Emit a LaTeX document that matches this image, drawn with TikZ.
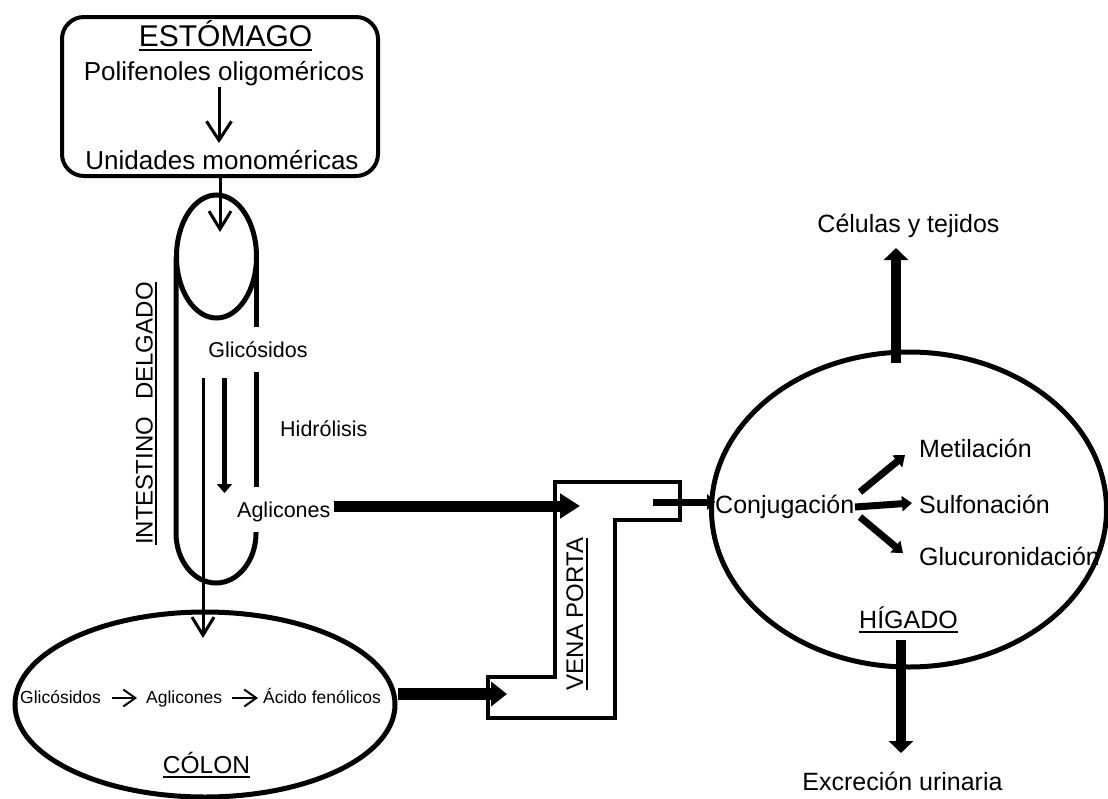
\documentclass[tikz,border=0pt]{standalone}
\usepackage{fontspec}
\setmainfont{Liberation Sans}
\usetikzlibrary{arrows.meta,shapes.geometric,calc}
\newcommand\myul[1]{\setbox0=\hbox{#1}\rlap{\rule[-4.5pt]{\wd0}{2pt}}\box0}
\newcommand\fsz[1]{\fontsize{#1}{#1}\selectfont}
\begin{document}
\begin{tikzpicture}[x=1pt,y=-1pt,
  lbl/.style={inner sep=0pt, anchor=base},
  wall/.style={line width=5pt},
  organ/.style={draw, ellipse, line width=5pt, inner sep=0pt},
  thinarrow/.style={line width=3pt, -{Straight Barb[length=18pt,width=22pt]}},
  bigarrow/.style={line width=11pt, -{Triangle[length=20pt,width=24pt]}},
  midarrow/.style={line width=7pt, -{Triangle[length=10pt,width=15pt]}}]
\useasboundingbox (0,0) rectangle (1108,798);

% ---------- Stomach ----------
\node[draw, line width=4pt, rounded corners=22pt, minimum width=316pt, minimum height=159pt, inner sep=0pt] (stomach) at (220,96.5) {};
\node[lbl, font=\fsz{30}] (est) at (225.5,46.5) {\myul{ESTÓMAGO}};
\node[lbl, font=\fsz{26}] (poli) at (224,80) {Polifenoles oligoméricos};
\node[lbl, font=\fsz{26}] (unid) at (222,169) {Unidades monoméricas};
\coordinate (s1) at (219,87);
\coordinate (s2) at (219,143);
\draw[line width=3pt, -{Straight Barb[length=19pt,width=25pt]}] (s1) -- (s2);

% ---------- Small intestine ----------
\draw[wall] (216.5,256.5) ellipse [x radius=40pt, y radius=61.5pt];
\draw[wall] (176,256.5) -- (176,533) arc[start angle=180, end angle=360, x radius=40pt, y radius=50pt] -- (256,532);
\draw[wall] (256,256.5) -- (256,327);
\draw[wall] (256,372) -- (256,487);
\coordinate (iEnd) at (220,232);
\draw[thinarrow] (stomach.south) -- (iEnd);

\node[lbl, font=\fsz{21.5}] (gli1) at (258,357) {Glicósidos};
\node[lbl, anchor=base west, font=\fsz{21.5}] (hid) at (280,436) {Hidrólisis};
\node[lbl, anchor=base west, font=\fsz{21.5}] (agl1) at (237,517) {Aglicones};
\node[lbl, rotate=90, font=\fsz{24}] (intl) at (152.5,413.5) {\myul{INTESTINO\hspace{17pt}DELGADO}};

\coordinate (t1) at (203,378);
\coordinate (t2) at (203,638);
\draw[thinarrow] (t1) -- (t2);
\coordinate (h1) at (224.5,378);
\coordinate (h2) at (224.5,493);
\draw[line width=5.5pt, -{Triangle[length=9pt,width=15pt]}] (h1) -- (h2);

% ---------- Colon ----------
\node[organ, minimum width=380pt, minimum height=185pt] (colon) at (205,704.5) {};
\node[lbl, anchor=base west, font=\fsz{17.5}] (gli2) at (20,703) {Glicósidos};
\node[lbl, anchor=base west, font=\fsz{17.5}] (agl2) at (146,703) {Aglicones};
\node[lbl, anchor=base west, font=\fsz{17.5}] (acid) at (263,703) {Ácido fenólicos};
\node[lbl, font=\fsz{24.5}] (colonlbl) at (206.5,773) {\myul{CÓLON}};
\draw[line width=2pt, -{Straight Barb[length=12pt,width=17pt]}] ($(gli2.base east)+(11,-5)$) -- ($(agl2.base west)+(-9,-5)$);
\draw[line width=2pt, -{Straight Barb[length=12pt,width=17pt]}] ($(agl2.base east)+(10,-5)$) -- ($(acid.base west)+(-5,-5)$);

% ---------- Vena porta ----------
\draw[line width=4pt] (555,482) -- (680,482) -- (680,520) -- (615,520) -- (615,718) -- (488,718) -- (488,677) -- (555,677) -- cycle;
\node[lbl, rotate=90, font=\fsz{24}] (vena) at (583,614) {\myul{VENA PORTA}};
\coordinate (vpIn) at (580,506);
\coordinate (vpB) at (507,694);
\coordinate (vpOut) at (653,502);
\draw[bigarrow] (agl1.east |- vpIn) ++(3,0) -- (vpIn);
\draw[line width=12pt, -{Triangle[length=16pt,width=24pt]}] (colon.east |- vpB) -- (vpB);

% ---------- Liver ----------
\node[organ, minimum width=395pt, minimum height=315pt] (liver) at (909,509.5) {};
\node[lbl, anchor=base west, font=\fsz{25}] (conj) at (715,513) {Conjugación};
\node[lbl, anchor=base west, font=\fsz{25}] (met) at (919,457) {Metilación};
\node[lbl, anchor=base west, font=\fsz{25}] (sul) at (919,513) {Sulfonación};
\node[lbl, anchor=base west, font=\fsz{25}] (glu) at (919,565) {Glucuronidación};
\node[lbl, font=\fsz{25}] (hig) at (908.5,628) {\myul{HÍGADO}};
\node[lbl, font=\fsz{25}] (cel) at (908.5,232) {Células y tejidos};
\node[lbl, font=\fsz{25}] (exc) at (902.5,790) {Excreción urinaria};

\draw[line width=7pt, -{Triangle[length=8pt,width=16pt]}] (vpOut) -- (conj.west |- vpOut);

\coordinate (m1) at (860,492); \coordinate (m2) at (905,455);
\coordinate (u1) at (855,507); \coordinate (u2) at (912,503);
\coordinate (g1) at (860,517); \coordinate (g2) at (903,553);
\draw[midarrow] (m1) -- (m2);
\draw[midarrow] (u1) -- (u2);
\draw[midarrow] (g1) -- (g2);

\coordinate (up1) at (896,363); \coordinate (up2) at (896,248);
\coordinate (dn1) at (901,640); \coordinate (dn2) at (901,753);
\draw[line width=10pt, -{Triangle[length=12pt,width=24pt]}] (up1) -- (up2);
\draw[line width=10pt, -{Triangle[length=12pt,width=24pt]}] (dn1) -- (dn2);
\end{tikzpicture}
\end{document}
